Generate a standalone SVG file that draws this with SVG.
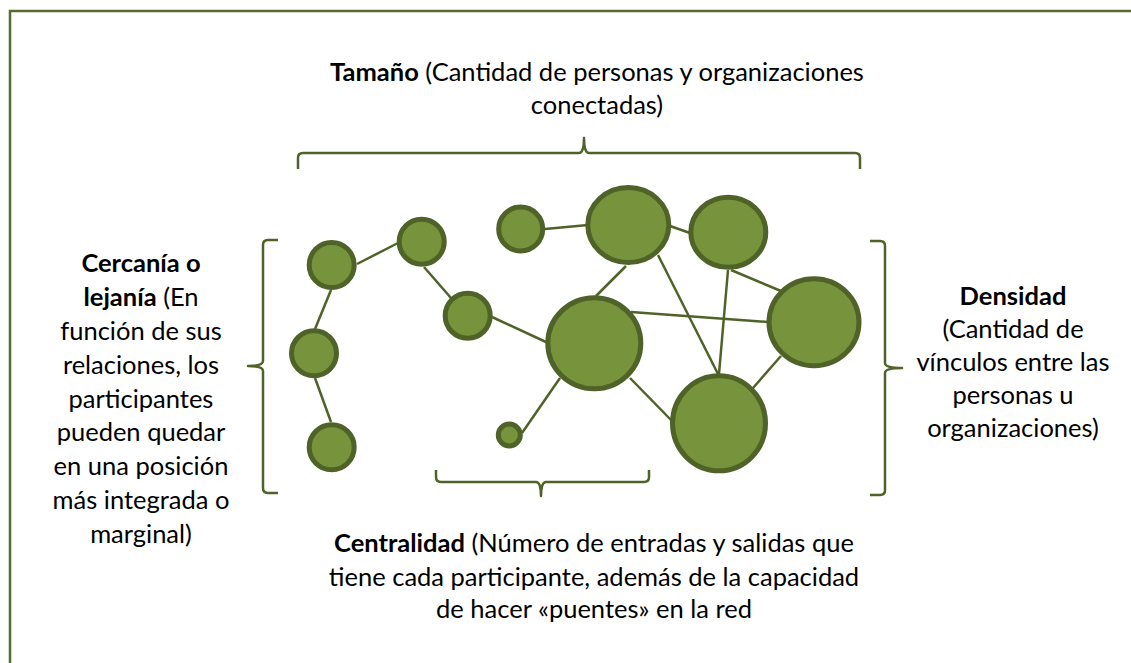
<svg xmlns="http://www.w3.org/2000/svg" width="1131" height="663" viewBox="0 0 1131 663">
<style>
.frame{fill:none;stroke:#566b2c;stroke-width:2.5}
.node{fill:#77933c;stroke:#4f6228;stroke-width:5}
.edge{stroke:#4f6228;stroke-width:2.5;fill:none}
.brace{fill:none;stroke:#4f6228;stroke-width:2.5;stroke-linejoin:round}
.lbl{font-family:Lato,"Liberation Sans",sans-serif;font-size:25.5px;fill:#000;text-anchor:middle}
.b{font-weight:700}
</style>
<rect width="1131" height="663" fill="#fff"/>
<path class="frame" d="M10,680 L10,11 L1140,11"/>
<g id="braces">
<path class="brace" d="M298,169 L298,158 Q298,153 303,153 L579,153 Q584,153 584,138 Q584,153 589,153 L855,153 Q860,153 860,158 L860,169"/>
<path class="brace" d="M278,240 L268,240 Q263,240 263,245 L263,361 Q263,366 248,366 Q263,366 263,371 L263,488 Q263,493 268,493 L278,493"/>
<path class="brace" d="M870,241 L880,241 Q885,241 885,246 L885,363 Q885,368 902,368 Q885,368 885,373 L885,490 Q885,495 880,495 L870,495"/>
<path class="brace" d="M436,470 L436,477 Q436,482 441,482 L536,482 Q541,482 541,496 Q541,482 546,482 L644,482 Q649,482 649,477 L649,470"/>
</g>
<g id="connectors">
<line class="edge" x1="357" y1="264" x2="398" y2="243"/>
<line class="edge" x1="331" y1="290" x2="315" y2="329"/>
<line class="edge" x1="315" y1="378" x2="331" y2="422"/>
<line class="edge" x1="424" y1="267" x2="451" y2="298"/>
<line class="edge" x1="492" y1="317" x2="546" y2="342"/>
<line class="edge" x1="545" y1="229" x2="588" y2="225"/>
<line class="edge" x1="670" y1="226" x2="690" y2="233"/>
<line class="edge" x1="626" y1="266" x2="596" y2="296"/>
<line class="edge" x1="658" y1="255" x2="718" y2="374"/>
<line class="edge" x1="728" y1="270" x2="719" y2="374"/>
<line class="edge" x1="731" y1="270" x2="781" y2="291"/>
<line class="edge" x1="631" y1="312" x2="768" y2="322"/>
<line class="edge" x1="630" y1="378" x2="672" y2="421"/>
<line class="edge" x1="781" y1="356" x2="753" y2="388"/>
<line class="edge" x1="560" y1="378" x2="522" y2="433"/>
</g>
<g id="n1"><circle class="node" cx="331.7" cy="265" r="22.5"/></g>
<g id="n2"><circle class="node" cx="421.7" cy="241.7" r="22.5"/></g>
<g id="n3"><circle class="node" cx="314" cy="353.3" r="22.5"/></g>
<g id="n4"><circle class="node" cx="331.7" cy="447.3" r="22.5"/></g>
<g id="n5"><circle class="node" cx="467.7" cy="315.7" r="22.5"/></g>
<g id="n6"><circle class="node" cx="520.7" cy="229" r="22"/></g>
<g id="n7"><circle class="node" cx="509.3" cy="435" r="11"/></g>
<g id="n8"><ellipse class="node" cx="628.3" cy="225" rx="40.5" ry="37.5"/></g>
<g id="n9"><ellipse class="node" cx="728.3" cy="232.3" rx="37.5" ry="35"/></g>
<g id="n10"><ellipse class="node" cx="814" cy="322.3" rx="45" ry="43.5"/></g>
<g id="n11"><ellipse class="node" cx="594.3" cy="343.3" rx="46.5" ry="45.5"/></g>
<g id="n12"><ellipse class="node" cx="719" cy="423.3" rx="46.5" ry="47.5"/></g>
<g id="label-tamano" class="lbl">
<text x="597" y="81"><tspan class="b">Tamaño</tspan> (Cantidad de personas y organizaciones</text>
<text x="597" y="114">conectadas)</text>
</g>
<g id="label-cercania" class="lbl">
<text x="141" y="272" class="b">Cercanía o</text>
<text x="141" y="306"><tspan class="b">lejanía</tspan> (En</text>
<text x="141" y="340">función de sus</text>
<text x="141" y="373.5">relaciones, los</text>
<text x="141" y="407.5">participantes</text>
<text x="141" y="441">pueden quedar</text>
<text x="141" y="475">en una posición</text>
<text x="141" y="509">más integrada o</text>
<text x="141" y="543">marginal)</text>
</g>
<g id="label-densidad" class="lbl">
<text x="1013" y="305" class="b">Densidad</text>
<text x="1013" y="338">(Cantidad de</text>
<text x="1013" y="371">vínculos entre las</text>
<text x="1013" y="404">personas u</text>
<text x="1013" y="437">organizaciones)</text>
</g>
<g id="label-centralidad" class="lbl">
<text x="594" y="552"><tspan class="b">Centralidad</tspan> (Número de entradas y salidas que</text>
<text x="594" y="586">tiene cada participante, además de la capacidad</text>
<text x="594" y="618">de hacer «puentes» en la red</text>
</g>
</svg>
